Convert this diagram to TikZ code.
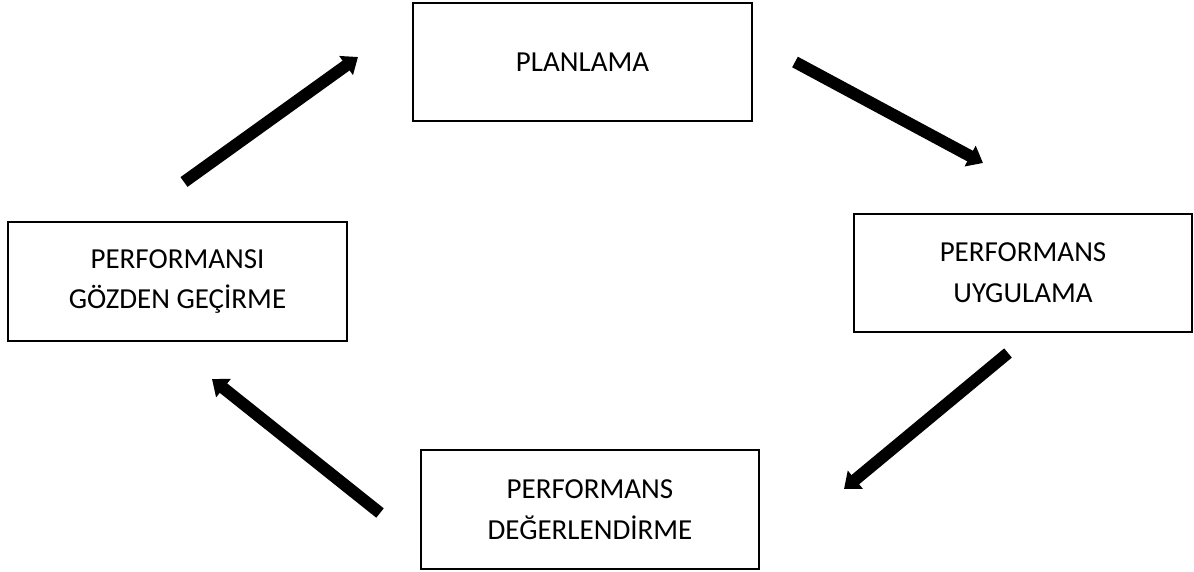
\documentclass[tikz,border=0pt]{standalone}
\usepackage{fontspec}
\setmainfont{Carlito}
\usetikzlibrary{arrows.meta}

\begin{document}
\begin{tikzpicture}[
  x=0.75pt,y=-0.75pt,
  stage/.style={rectangle,draw,line width=1.5pt,align=center,minimum width=254pt,minimum height=89pt,inner sep=0pt,font=\fontsize{21.75}{30.5}\selectfont},
  flow/.style={-{Triangle[width=17pt,length=11pt]},line width=9pt}]
\useasboundingbox (0,0) rectangle (1194,571);
\node[stage] (plan) at (582.5,62) {PLANLAMA};
\node[stage] (uyg) at (1023,273) {PERFORMANS\\UYGULAMA};
\node[stage] (deger) at (590,509.5) {PERFORMANS\\DEĞERLENDİRME};
\node[stage] (gozden) at (177.5,281.5) {PERFORMANSI\\GÖZDEN GEÇİRME};
% arrow ends
\coordinate (a1s) at (184,182);
\coordinate (a1e) at (358,57);
\coordinate (a2s) at (795,62);
\coordinate (a2e) at (983,163);
\coordinate (a3s) at (1008,353);
\coordinate (a3e) at (844,489);
\coordinate (a4s) at (380,513);
\coordinate (a4e) at (212,379);
\draw[flow] (a1s) -- (a1e);
\draw[flow] (a2s) -- (a2e);
\draw[flow] (a3s) -- (a3e);
\draw[flow] (a4s) -- (a4e);
\end{tikzpicture}
\end{document}
